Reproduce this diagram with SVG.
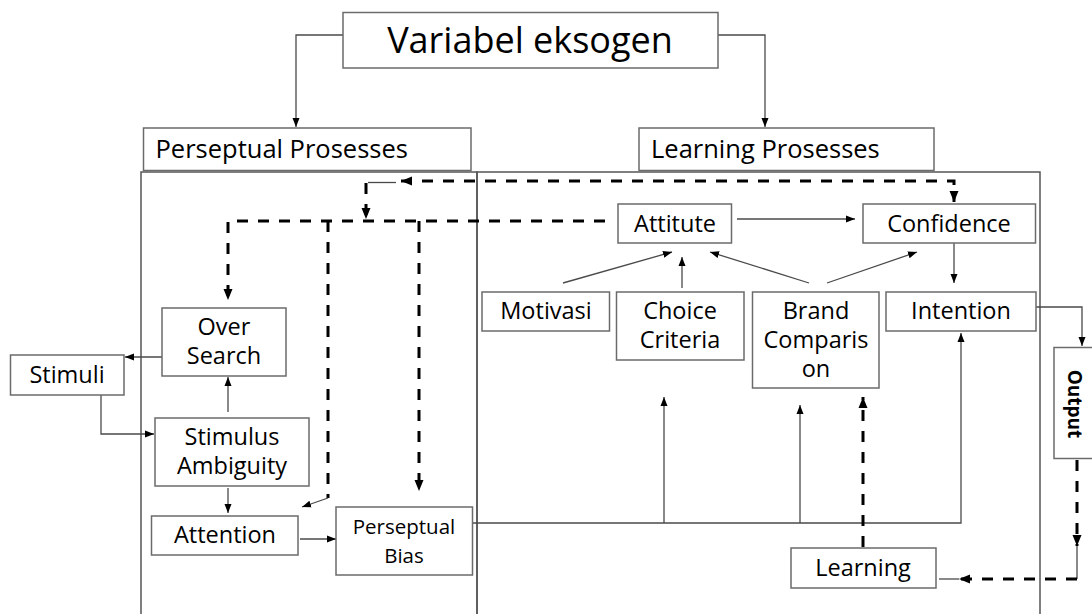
<svg xmlns="http://www.w3.org/2000/svg" width="1092" height="614" viewBox="0 0 1092 614">
<style>
text{font-family:"Open Sans","Liberation Sans",sans-serif;fill:#000;}
.box{fill:#fff;stroke:#6b6b6b;stroke-width:1.5;}
.panel{fill:none;stroke:#555;stroke-width:1.5;}
.ln{fill:none;stroke:#4a4a4a;stroke-width:1.3;}
.dash{fill:none;stroke:#000;stroke-width:3;stroke-dasharray:11 10;}
.n{font-size:23.5px;text-anchor:middle;}
</style>
<defs>
<marker id="a" markerUnits="userSpaceOnUse" markerWidth="10" markerHeight="8" refX="9" refY="4" orient="auto-start-reverse"><path d="M0,0.5 L9,4 L0,7.5 z" fill="#000"/></marker>
<marker id="ad" markerUnits="userSpaceOnUse" markerWidth="12" markerHeight="10" refX="11" refY="5" orient="auto-start-reverse"><path d="M0,0.5 L11,5 L0,9.5 z" fill="#000"/></marker>
</defs>
<g id="panels">
<rect class="panel" x="141" y="172" width="336" height="460"/>
<rect class="panel" x="477" y="172" width="563" height="460"/>
</g>
<g id="connectors">
<path class="ln" d="M343,35 H296 V127" marker-end="url(#a)"/>
<path class="ln" d="M718,35 H765 V127" marker-end="url(#a)"/>
<path class="dash" d="M401,181 H954 V202" marker-start="url(#ad)" marker-end="url(#ad)"/>
<path class="ln" d="M396,182.5 H368"/>
<path class="dash" d="M366,183 V219" marker-end="url(#ad)"/>
<path class="dash" d="M605,221 H228 V300" marker-end="url(#ad)"/>
<path class="dash" d="M328,221 V498"/>
<path class="ln" d="M328,498 L302,507" marker-end="url(#a)"/>
<path class="dash" d="M419,221 V491" marker-end="url(#ad)"/>
<path class="ln" d="M162,357 H125" marker-end="url(#a)"/>
<path class="ln" d="M101,395 V434 H154" marker-end="url(#a)"/>
<path class="ln" d="M228,412 V377" marker-end="url(#a)"/>
<path class="ln" d="M228,488 V513" marker-end="url(#a)"/>
<path class="ln" d="M300,539 H336" marker-end="url(#a)"/>
<path class="ln" d="M472,523 H961 V333" marker-end="url(#a)"/>
<path class="ln" d="M664,523 V397" marker-end="url(#a)"/>
<path class="ln" d="M800,523 V405" marker-end="url(#a)"/>
<path class="dash" d="M863,547 V397" marker-end="url(#ad)"/>
<path class="ln" d="M737,219 H855" marker-end="url(#a)"/>
<path class="ln" d="M954,243 V283" marker-end="url(#a)"/>
<path class="ln" d="M563,283 L672,252" marker-end="url(#a)"/>
<path class="ln" d="M682,288 V257" marker-end="url(#a)"/>
<path class="ln" d="M809,283 L710,252" marker-end="url(#a)"/>
<path class="ln" d="M827,283 L917,252" marker-end="url(#a)"/>
<path class="ln" d="M1036,307 H1082 V346" marker-end="url(#a)"/>
<path class="dash" d="M1077,460 V546" marker-end="url(#ad)"/>
<path class="ln" d="M1077,546 V579"/>
<path class="dash" d="M1077,579 H959" marker-end="url(#ad)"/>
<path class="ln" d="M959,579 H939"/>
</g>
<g id="variabel-eksogen">
<rect class="box" x="343" y="12.5" width="375" height="55.5"/>
<text x="530" y="53" font-size="36" text-anchor="middle">Variabel eksogen</text>
</g>
<g id="perseptual-prosesses">
<rect class="box" x="143.5" y="128" width="327.5" height="42.5"/>
<text x="155.5" y="158" font-size="25.5">Perseptual Prosesses</text>
</g>
<g id="learning-prosesses">
<rect class="box" x="639" y="128" width="295" height="42.5"/>
<text x="651" y="158" font-size="25.5">Learning Prosesses</text>
</g>
<g id="over-search">
<rect class="box" x="162" y="308" width="124" height="68"/>
<text class="n" x="224" y="335">Over</text>
<text class="n" x="224" y="364">Search</text>
</g>
<g id="stimuli">
<rect class="box" x="10.5" y="355" width="113.5" height="40"/>
<text class="n" x="67" y="383">Stimuli</text>
</g>
<g id="stimulus-ambiguity">
<rect class="box" x="155" y="418" width="154" height="68"/>
<text class="n" x="232" y="445">Stimulus</text>
<text class="n" x="232" y="474">Ambiguity</text>
</g>
<g id="attention">
<rect class="box" x="151.5" y="516" width="146.5" height="39"/>
<text class="n" x="225" y="543">Attention</text>
</g>
<g id="perseptual-bias">
<rect class="box" x="336" y="507" width="136.5" height="68"/>
<text x="404" y="534" font-size="20.5" text-anchor="middle">Perseptual</text>
<text x="404" y="563" font-size="20.5" text-anchor="middle">Bias</text>
</g>
<g id="attitute">
<rect class="box" x="618" y="204" width="113.5" height="39"/>
<text class="n" x="675" y="231.5">Attitute</text>
</g>
<g id="confidence">
<rect class="box" x="863" y="204" width="172.5" height="39"/>
<text class="n" x="949" y="231.5">Confidence</text>
</g>
<g id="motivasi">
<rect class="box" x="482" y="292" width="127.5" height="39"/>
<text class="n" x="546" y="319">Motivasi</text>
</g>
<g id="choice-criteria">
<rect class="box" x="616.5" y="292" width="127.5" height="68"/>
<text class="n" x="680" y="319">Choice</text>
<text class="n" x="680" y="348">Criteria</text>
</g>
<g id="brand-comparison">
<rect class="box" x="752.5" y="292" width="126.5" height="96"/>
<text class="n" x="816" y="319">Brand</text>
<text class="n" x="816" y="348">Comparis</text>
<text class="n" x="816" y="377">on</text>
</g>
<g id="intention">
<rect class="box" x="886" y="292" width="150" height="39"/>
<text class="n" x="961" y="319">Intention</text>
</g>
<g id="output">
<rect class="box" x="1054" y="347.5" width="50" height="111"/>
<text transform="translate(1068,404) rotate(90)" font-size="19" font-weight="bold" text-anchor="middle">Output</text>
</g>
<g id="learning">
<rect class="box" x="791" y="548" width="145" height="40"/>
<text class="n" x="863" y="576">Learning</text>
</g>
</svg>
